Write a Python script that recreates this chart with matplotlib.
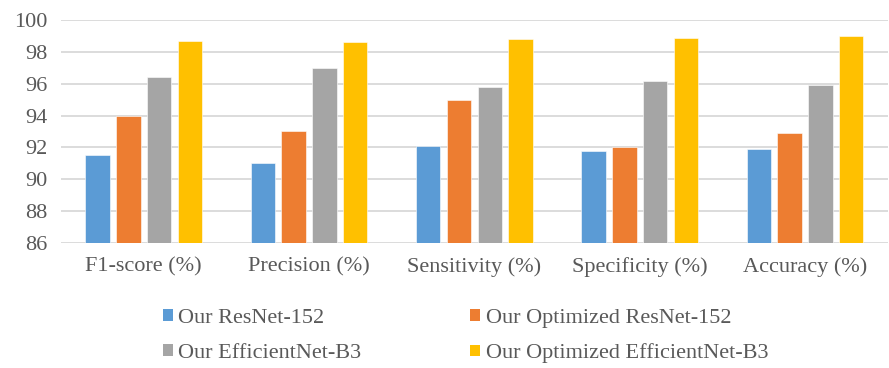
import matplotlib
matplotlib.use("Agg")
import matplotlib.pyplot as plt
from matplotlib.patches import Patch
import numpy as np

plt.rcParams['font.family'] = ['Liberation Serif', 'DejaVu Serif']

categories = ["F1-score (%)", "Precision (%)", "Sensitivity (%)", "Specificity (%)", "Accuracy (%)"]
series_names = ["Our ResNet-152", "Our Optimized ResNet-152",
                "Our EfficientNet-B3", "Our Optimized EfficientNet-B3"]
resnet = [91.5, 91.0, 92.1, 91.8, 91.9]
opt_resnet = [94.0, 93.0, 95.0, 92.0, 92.9]
effnet = [96.4, 97.0, 95.8, 96.2, 95.9]
opt_effnet = [98.7, 98.6, 98.8, 98.9, 99.0]
yticks = [86, 88, 90, 92, 94, 96, 98, 100]

colors = ["#5B9BD5", "#ED7D31", "#A5A5A5", "#FFC000"]
all_series = [resnet, opt_resnet, effnet, opt_effnet]

fig = plt.figure(figsize=(8.89, 3.68), dpi=100)
ax = fig.add_axes([0.0686, 0.3397, 0.93, 0.606])

x = np.arange(len(categories))
width = 0.148
step = 0.186
for i, (vals, c) in enumerate(zip(all_series, colors)):
    offs = (i - 1.5) * step
    ax.bar(x + offs, np.array(vals) - 86, width=width, bottom=86, color=c,
           edgecolor="white", linewidth=0.4, zorder=3)

ax.set_ylim(86, 100)
ax.set_xlim(-0.5, len(categories) - 0.5)
ax.set_yticks(yticks)
ax.set_yticklabels([str(v) for v in yticks])
ax.set_xticks(x)
ax.set_xticklabels(categories)
ax.grid(axis='y', color="#d9d9d9", linewidth=1.3, zorder=0)
for s in ax.spines.values():
    s.set_visible(False)
ax.tick_params(axis='both', length=0, labelsize=16, colors="#595959")
ax.tick_params(axis='x', pad=10)
ax.tick_params(axis='y', pad=10)

handles = [Patch(facecolor=c, edgecolor='none') for c in colors]
order = [0, 2, 1, 3]
fig.legend([handles[i] for i in order], [series_names[i] for i in order],
           ncol=2, loc='center', bbox_to_anchor=(0.5237, 0.087),
           frameon=False, fontsize=16, labelcolor="#595959",
           handlelength=0.45, handleheight=0.45, handletextpad=0.25,
           columnspacing=4.9, labelspacing=0.72, borderpad=0.0)

fig.savefig("out.png", dpi=100)
